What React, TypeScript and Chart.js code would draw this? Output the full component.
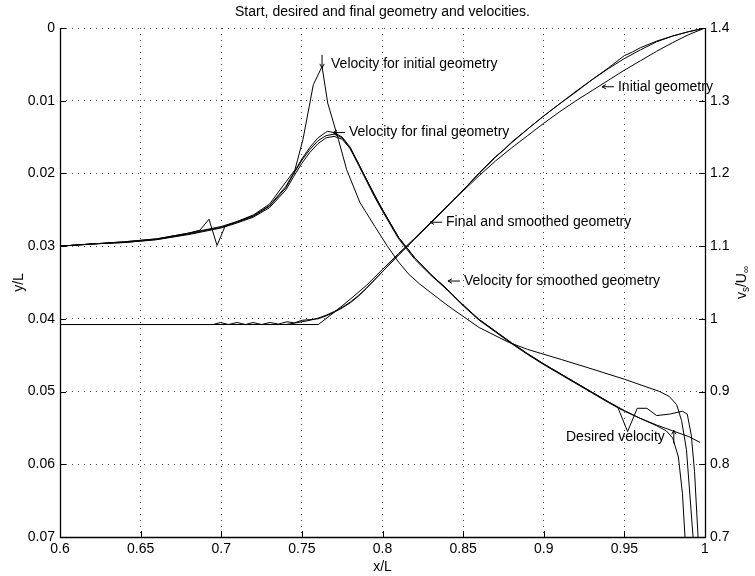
import React, { useEffect, useRef } from 'react';
import { Chart, registerables } from 'chart.js';

Chart.register(...registerables);

const FONT = '"Liberation Sans", Arial, Helvetica, sans-serif';
const FONT_SIZE = 14;

const TITLE = 'Start, desired and final geometry and velocities.';

// Axis ticks
const xTicks = [0.6, 0.65, 0.7, 0.75, 0.8, 0.85, 0.9, 0.95, 1];
const xTickLabels = ['0.6', '0.65', '0.7', '0.75', '0.8', '0.85', '0.9', '0.95', '1'];
const yTicks = [0, 0.01, 0.02, 0.03, 0.04, 0.05, 0.06, 0.07];
const yTickLabels = ['0', '0.01', '0.02', '0.03', '0.04', '0.05', '0.06', '0.07'];
const vTicks = [0.7, 0.8, 0.9, 1.0, 1.1, 1.2, 1.3, 1.4];
const vTickLabels = ['0.7', '0.8', '0.9', '1', '1.1', '1.2', '1.3', '1.4'];

// Geometry (left axis, y/L)
const initGeomX = [0.6, 0.7602, 0.77, 0.78, 0.79, 0.8, 0.81, 0.82, 0.83, 0.84, 0.85, 0.86, 0.87, 0.88, 0.89, 0.9, 0.91, 0.92, 0.93, 0.94, 0.95, 0.96, 0.97, 0.98, 0.99, 1.0];
const initGeomY = [0.04078, 0.04078, 0.0391, 0.0373, 0.0354, 0.0332, 0.031, 0.0289, 0.0267, 0.0245, 0.0224, 0.0203, 0.0183, 0.0165, 0.0148, 0.0131, 0.0115, 0.01, 0.0086, 0.0072, 0.0058, 0.0045, 0.0032, 0.002, 0.0009, 0];

const finalGeomX = [0.6, 0.695, 0.6995, 0.7045, 0.7097, 0.715, 0.7197, 0.725, 0.7302, 0.7355, 0.7408, 0.7455, 0.7501, 0.755, 0.76, 0.765, 0.77, 0.775, 0.78, 0.785, 0.79, 0.8, 0.81, 0.82, 0.83, 0.84, 0.85, 0.86, 0.87, 0.875, 0.88, 0.89, 0.9, 0.91, 0.92, 0.93, 0.94, 0.95, 0.955, 0.96, 0.97, 0.98, 0.99, 1.0];
const finalGeomY = [0.04078, 0.04078, 0.0405, 0.04078, 0.0405, 0.04078, 0.0405, 0.04078, 0.0405, 0.04072, 0.0404, 0.04055, 0.0402, 0.0401, 0.04, 0.0396, 0.0391, 0.0385, 0.0378, 0.0369, 0.0358, 0.0335, 0.0312, 0.029, 0.0268, 0.0246, 0.0223, 0.0199, 0.0177, 0.0168, 0.0157, 0.0139, 0.0121, 0.0104, 0.0088, 0.0071, 0.0055, 0.0038, 0.0033, 0.0027, 0.0018, 0.0011, 0.0005, 0];

const smoothGeomX = [0.6, 0.74, 0.745, 0.75, 0.755, 0.76, 0.765, 0.77, 0.775, 0.78, 0.785, 0.79, 0.8, 0.81, 0.82, 0.83, 0.84, 0.85, 0.86, 0.87, 0.88, 0.89, 0.9, 0.91, 0.92, 0.93, 0.94, 0.95, 0.96, 0.97, 0.98, 0.99, 1.0];
const smoothGeomY = [0.04078, 0.04078, 0.0406, 0.0404, 0.0402, 0.0399, 0.0395, 0.039, 0.0384, 0.0377, 0.0368, 0.0358, 0.0335, 0.0312, 0.029, 0.0268, 0.0246, 0.0223, 0.02, 0.0178, 0.0158, 0.0139, 0.0121, 0.0104, 0.0087, 0.0071, 0.0056, 0.0042, 0.003, 0.0019, 0.0011, 0.0005, 0];

// Velocities (right axis, vs/U∞)
const desiredVelX = [0.6, 0.62, 0.64, 0.66, 0.68, 0.7, 0.71, 0.72, 0.73, 0.74, 0.745, 0.75, 0.755, 0.76, 0.765, 0.77, 0.775, 0.78, 0.785, 0.79, 0.795, 0.8, 0.81, 0.82, 0.83, 0.84, 0.85, 0.86, 0.87, 0.88, 0.89, 0.9, 0.91, 0.92, 0.93, 0.94, 0.95, 0.96, 0.97, 0.98, 0.99, 0.997];
const desiredVelV = [1.1, 1.103, 1.105, 1.109, 1.117, 1.126, 1.133, 1.141, 1.155, 1.18, 1.2, 1.218, 1.233, 1.245, 1.252, 1.254, 1.249, 1.234, 1.212, 1.19, 1.168, 1.148, 1.11, 1.082, 1.06, 1.04, 1.018, 0.998, 0.982, 0.966, 0.951, 0.937, 0.924, 0.911, 0.898, 0.885, 0.873, 0.863, 0.854, 0.846, 0.838, 0.83];

const finalVelX = [0.6, 0.62, 0.64, 0.66, 0.68, 0.6868, 0.6924, 0.6974, 0.7023, 0.71, 0.72, 0.73, 0.74, 0.75, 0.755, 0.76, 0.7645, 0.766, 0.77, 0.775, 0.78, 0.785, 0.79, 0.8, 0.81, 0.82, 0.83, 0.84, 0.85, 0.86, 0.87, 0.88, 0.89, 0.9, 0.91, 0.92, 0.93, 0.94, 0.946, 0.952, 0.958, 0.964, 0.97, 0.978, 0.986, 0.989, 0.9915, 0.9935, 0.9957];
const finalVelV = [1.1, 1.103, 1.106, 1.11, 1.118, 1.122, 1.137, 1.101, 1.127, 1.134, 1.142, 1.156, 1.182, 1.22, 1.236, 1.249, 1.256, 1.258, 1.256, 1.25, 1.236, 1.214, 1.192, 1.15, 1.112, 1.084, 1.061, 1.041, 1.019, 0.999, 0.983, 0.967, 0.952, 0.938, 0.925, 0.912, 0.899, 0.886, 0.878, 0.845, 0.877, 0.877, 0.867, 0.869, 0.873, 0.869, 0.84, 0.79, 0.7];

const smoothVelX = [0.6, 0.62, 0.64, 0.66, 0.68, 0.7, 0.71, 0.72, 0.73, 0.74, 0.745, 0.75, 0.755, 0.76, 0.765, 0.77, 0.775, 0.78, 0.785, 0.79, 0.795, 0.8, 0.81, 0.82, 0.83, 0.84, 0.85, 0.86, 0.87, 0.88, 0.89, 0.9, 0.91, 0.92, 0.93, 0.94, 0.95, 0.96, 0.97, 0.976, 0.98, 0.9835, 0.986, 0.9876];
const smoothVelV = [1.1, 1.103, 1.105, 1.109, 1.116, 1.125, 1.132, 1.14, 1.153, 1.177, 1.196, 1.214, 1.229, 1.241, 1.249, 1.251, 1.247, 1.234, 1.214, 1.192, 1.17, 1.15, 1.112, 1.084, 1.061, 1.041, 1.019, 0.999, 0.983, 0.967, 0.952, 0.938, 0.925, 0.912, 0.899, 0.886, 0.874, 0.863, 0.853, 0.846, 0.836, 0.81, 0.76, 0.7];

const initVelX = [0.6, 0.62, 0.64, 0.66, 0.68, 0.7, 0.71, 0.72, 0.73, 0.74, 0.7457, 0.7507, 0.7571, 0.7625, 0.766, 0.7726, 0.7778, 0.786, 0.7953, 0.803, 0.81, 0.816, 0.823, 0.83, 0.84, 0.847, 0.86, 0.878, 0.89, 0.911, 0.93, 0.95, 0.972, 0.978, 0.9824, 0.9855, 0.9885, 0.9926];
const initVelV = [1.1, 1.103, 1.106, 1.11, 1.118, 1.127, 1.134, 1.143, 1.158, 1.188, 1.205, 1.247, 1.322, 1.347, 1.297, 1.247, 1.205, 1.16, 1.127, 1.1, 1.078, 1.062, 1.048, 1.036, 1.019, 1.008, 0.988, 0.968, 0.958, 0.944, 0.931, 0.917, 0.9, 0.893, 0.882, 0.86, 0.82, 0.7];

// Curve labels: (x, v) is the arrow tip for 'left'/'down', the text start for 'up'
type Note = { text: string; x: number; v: number; arrow: 'left' | 'down' | 'up' };
const notes: Note[] = [
  { text: 'Velocity for initial geometry', x: 0.7625, v: 1.3452, arrow: 'down' },
  { text: 'Velocity for final geometry', x: 0.7693, v: 1.2562, arrow: 'left' },
  { text: 'Initial geometry', x: 0.9361, v: 1.3192, arrow: 'left' },
  { text: 'Final and smoothed geometry', x: 0.8295, v: 1.1329, arrow: 'left' },
  { text: 'Velocity for smoothed geometry', x: 0.8406, v: 1.052, arrow: 'left' },
  { text: 'Desired velocity', x: 0.9138, v: 0.837, arrow: 'up' },
];

const toPoints = (xs: number[], ys: number[]) => xs.map((x, i) => ({ x, y: ys[i] }));

const line = (label: string, xs: number[], ys: number[], axis: string, width = 1) => ({
  label,
  data: toPoints(xs, ys),
  yAxisID: axis,
  borderColor: '#000',
  borderWidth: width,
  pointRadius: 0,
  tension: 0,
  fill: false,
});

// thin arrow with an open head at (x1, y1)
function drawArrow(ctx: CanvasRenderingContext2D, x0: number, y0: number, x1: number, y1: number) {
  const ang = Math.atan2(y1 - y0, x1 - x0);
  const head = 4.5;
  const spread = 0.5;
  ctx.beginPath();
  ctx.moveTo(x0, y0);
  ctx.lineTo(x1, y1);
  ctx.moveTo(x1 - head * Math.cos(ang - spread), y1 - head * Math.sin(ang - spread));
  ctx.lineTo(x1, y1);
  ctx.lineTo(x1 - head * Math.cos(ang + spread), y1 - head * Math.sin(ang + spread));
  ctx.stroke();
}

const decorPlugin = {
  id: 'decor',
  afterDraw(chart: any) {
    const { ctx, chartArea: a, scales } = chart;
    const sx = scales.x;
    const sy = scales.y;
    const sv = scales.y1;
    ctx.save();

    // axis lines (left, bottom, right)
    ctx.strokeStyle = '#000';
    ctx.lineWidth = 1.3;
    ctx.setLineDash([]);
    ctx.beginPath();
    ctx.moveTo(a.left + 0.5, a.top);
    ctx.lineTo(a.left + 0.5, a.bottom + 0.5);
    ctx.lineTo(a.right + 0.5, a.bottom + 0.5);
    ctx.lineTo(a.right + 0.5, a.top);
    ctx.stroke();

    // inward tick marks
    const tl = 6;
    ctx.lineWidth = 1;
    ctx.beginPath();
    xTicks.forEach((t) => {
      const px = Math.round(sx.getPixelForValue(t)) + 0.5;
      ctx.moveTo(px, a.bottom);
      ctx.lineTo(px, a.bottom - tl);
    });
    yTicks.forEach((t) => {
      const py = Math.round(sy.getPixelForValue(t)) + 0.5;
      ctx.moveTo(a.left, py);
      ctx.lineTo(a.left + tl, py);
    });
    vTicks.forEach((t) => {
      const py = Math.round(sv.getPixelForValue(t)) + 0.5;
      ctx.moveTo(a.right, py);
      ctx.lineTo(a.right - tl, py);
    });
    ctx.stroke();

    ctx.fillStyle = '#000';
    ctx.font = `${FONT_SIZE}px ${FONT}`;
    const cx = (a.left + a.right) / 2;
    const cy = (a.top + a.bottom) / 2;

    // title
    ctx.textAlign = 'center';
    ctx.textBaseline = 'middle';
    ctx.fillText(TITLE, cx, 12);

    // x axis title
    ctx.fillText('x/L', cx, 567);

    // left axis title
    ctx.save();
    ctx.translate(19, cy);
    ctx.rotate(-Math.PI / 2);
    ctx.fillText('y/L', 0, 0);
    ctx.restore();

    // right axis title: v_s / U_inf with subscripts
    const parts = [
      { t: 'v', size: FONT_SIZE, dy: 0 },
      { t: 's', size: 10, dy: 3 },
      { t: '/U', size: FONT_SIZE, dy: 0 },
      { t: '\u221E', size: 10, dy: 3 },
    ];
    let total = 0;
    parts.forEach((p) => {
      ctx.font = `${p.size}px ${FONT}`;
      total += ctx.measureText(p.t).width;
    });
    ctx.save();
    ctx.translate(746, cy);
    ctx.rotate(-Math.PI / 2);
    ctx.textAlign = 'left';
    ctx.textBaseline = 'alphabetic';
    let off = -total / 2;
    parts.forEach((p) => {
      ctx.font = `${p.size}px ${FONT}`;
      ctx.fillText(p.t, off, p.dy);
      off += ctx.measureText(p.t).width;
    });
    ctx.restore();

    // curve labels with arrows
    ctx.font = `${FONT_SIZE}px ${FONT}`;
    ctx.textAlign = 'left';
    ctx.textBaseline = 'middle';
    ctx.lineWidth = 1;
    notes.forEach((n) => {
      const px = sx.getPixelForValue(n.x);
      const py = sv.getPixelForValue(n.v);
      if (n.arrow === 'left') {
        drawArrow(ctx, px + 12, py, px, py);
        ctx.fillText(n.text, px + 16, py);
      } else if (n.arrow === 'down') {
        drawArrow(ctx, px, py - 13, px, py);
        ctx.fillText(n.text, px + 9, py - 4);
      } else {
        ctx.fillText(n.text, px, py);
        const ax = px + ctx.measureText(n.text).width + 9;
        drawArrow(ctx, ax, py + 6, ax, py - 7);
      }
    });

    ctx.restore();
  },
};

export default function App() {
  const canvasRef = useRef<HTMLCanvasElement | null>(null);

  useEffect(() => {
    const canvas = canvasRef.current;
    if (!canvas) return;

    const gridColor = 'rgba(0,0,0,0.7)';
    const tickFont = { family: FONT, size: FONT_SIZE };

    const chart = new Chart(canvas, {
      type: 'line',
      data: {
        datasets: [
          line('Initial geometry', initGeomX, initGeomY, 'y'),
          line('Final geometry', finalGeomX, finalGeomY, 'y'),
          line('Smoothed geometry', smoothGeomX, smoothGeomY, 'y'),
          line('Desired velocity', desiredVelX, desiredVelV, 'y1'),
          line('Velocity for final geometry', finalVelX, finalVelV, 'y1'),
          line('Velocity for smoothed geometry', smoothVelX, smoothVelV, 'y1'),
          line('Velocity for initial geometry', initVelX, initVelV, 'y1'),
        ] as any,
      },
      options: {
        responsive: false,
        animation: false,
        devicePixelRatio: 1,
        parsing: false,
        normalized: true,
        layout: { padding: { top: 28, left: 0, right: 0, bottom: 0 } },
        plugins: {
          legend: { display: false },
          tooltip: { enabled: false },
          title: { display: false },
        },
        scales: {
          x: {
            type: 'linear',
            min: 0.6,
            max: 1,
            afterBuildTicks: (s: any) => {
              s.ticks = xTicks.map((value) => ({ value }));
            },
            afterFit: (s: any) => {
              s.height = 39;
            },
            ticks: {
              autoSkip: false,
              maxRotation: 0,
              padding: 4,
              color: '#000',
              font: tickFont,
              callback: (_v: any, i: number) => xTickLabels[i],
            },
            grid: { color: gridColor, lineWidth: 1, drawTicks: false },
            border: { display: false, dash: [1, 5] },
          },
          y: {
            type: 'linear',
            position: 'left',
            reverse: true,
            min: 0,
            max: 0.07,
            afterBuildTicks: (s: any) => {
              s.ticks = yTicks.map((value) => ({ value }));
            },
            afterFit: (s: any) => {
              s.width = 60;
            },
            ticks: {
              autoSkip: false,
              padding: 5,
              color: '#000',
              font: tickFont,
              callback: (_v: any, i: number) => yTickLabels[i],
            },
            grid: { color: gridColor, lineWidth: 1, drawTicks: false },
            border: { display: false, dash: [1, 5] },
          },
          y1: {
            type: 'linear',
            position: 'right',
            min: 0.7,
            max: 1.4,
            afterBuildTicks: (s: any) => {
              s.ticks = vTicks.map((value) => ({ value }));
            },
            afterFit: (s: any) => {
              s.width = 50;
            },
            ticks: {
              autoSkip: false,
              padding: 5,
              color: '#000',
              font: tickFont,
              callback: (_v: any, i: number) => vTickLabels[i],
            },
            grid: { drawOnChartArea: false, drawTicks: false },
            border: { display: false },
          },
        },
      } as any,
      plugins: [decorPlugin],
    });

    return () => chart.destroy();
  }, []);

  return (
    <div style={{ position: 'absolute', left: 0, top: 0, width: 755, height: 576, background: '#fff' }}>
      <canvas ref={canvasRef} width={755} height={576} style={{ display: 'block' }} />
    </div>
  );
}
